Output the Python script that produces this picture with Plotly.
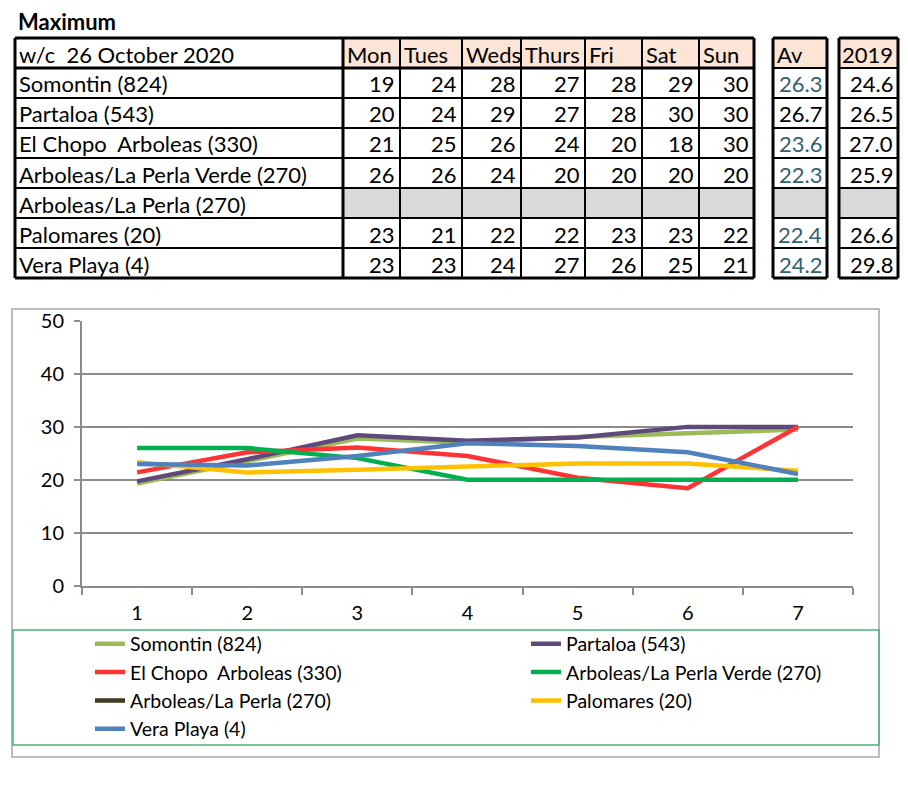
import plotly.graph_objects as go

# ---------------- data ----------------
title_text = "Maximum"
week_label = "w/c&nbsp;&nbsp;26 October 2020"
days = ["Mon", "Tues", "Weds", "Thurs", "Fri", "Sat", "Sun"]
stations = ["Somontin (824)", "Partaloa (543)", "El Chopo  Arboleas (330)",
            "Arboleas/La Perla Verde (270)", "Arboleas/La Perla (270)",
            "Palomares (20)", "Vera Playa (4)"]
table_values = [
    [19, 24, 28, 27, 28, 29, 30],
    [20, 24, 29, 27, 28, 30, 30],
    [21, 25, 26, 24, 20, 18, 30],
    [26, 26, 24, 20, 20, 20, 20],
    None,
    [23, 21, 22, 22, 23, 23, 22],
    [23, 23, 24, 27, 26, 25, 21],
]
averages = ["26.3", "26.7", "23.6", "22.3", None, "22.4", "24.2"]
avg_teal = [True, False, True, True, False, True, True]
year_2019 = ["24.6", "26.5", "27.0", "25.9", None, "26.6", "29.8"]

x_labels = ["1", "2", "3", "4", "5", "6", "7"]
chart_series = [
    [19.3, 23.5, 27.8, 27.0, 28.1, 28.8, 29.5],
    [19.7, 23.9, 28.4, 27.4, 28.0, 30.0, 30.0],
    [21.4, 25.2, 26.1, 24.5, 20.4, 18.4, 30.0],
    [26.0, 26.0, 24.1, 20.0, 20.0, 20.0, 20.0],
    [None] * 7,
    [23.3, 21.4, 21.9, 22.5, 23.1, 23.1, 21.7],
    [23.0, 22.7, 24.5, 26.9, 26.4, 25.2, 21.1],
]
series_colors = ["#9BBB59", "#5F497A", "#FF3333", "#00B050", "#403A20", "#FFC000", "#4F81BD"]
legend_column = ["legend", "legend2", "legend", "legend2", "legend", "legend2", "legend"]

# ---------------- layout helpers ----------------
W, H = 908, 800
FONT = "Lato"
def px(x): return x / W
def py(y): return 1 - y / H

shapes = []
annotations = []

def rect(x0, y0, x1, y1, fill=None, line_w=0, line_c="black"):
    shapes.append(dict(type="rect", xref="paper", yref="paper",
                       x0=px(x0), x1=px(x1), y0=py(y1), y1=py(y0),
                       fillcolor=fill if fill else "rgba(0,0,0,0)",
                       line=dict(width=line_w, color=line_c), layer="below"))

def line(x0, y0, x1, y1, w=2, c="black"):
    shapes.append(dict(type="line", xref="paper", yref="paper",
                       x0=px(x0), x1=px(x1), y0=py(y0), y1=py(y1),
                       line=dict(width=w, color=c)))

def text(x, y, s, anchor="left", color="black", size=22, bold=False):
    if bold:
        s = "<b>" + s + "</b>"
    annotations.append(dict(xref="paper", yref="paper", x=px(x), y=py(y),
                            text=s, showarrow=False, xanchor=anchor, yanchor="middle",
                            font=dict(family=FONT, size=size, color=color)))

HEAD_FILL = "#FCE4D6"
GRAY_FILL = "#D9D9D9"
TEAL = "#31606E"

row_y = [38, 68, 98, 128, 158, 188, 218, 248, 278]
col_x = [15, 343, 400, 462, 521, 585, 642, 699, 754]
av_x = [773, 827]
yr_x = [839, 898]

# title
text(16, 22, title_text, size=22, bold=True)

# fills
for j in range(len(days)):
    rect(col_x[j + 1], row_y[0], col_x[j + 2], row_y[1], fill=HEAD_FILL)
rect(av_x[0], row_y[0], av_x[1], row_y[1], fill=HEAD_FILL)
rect(yr_x[0], row_y[0], yr_x[1], row_y[1], fill=HEAD_FILL)
for i, vals in enumerate(table_values):
    if vals is None:
        rect(col_x[1], row_y[i + 1], col_x[-1], row_y[i + 2], fill=GRAY_FILL)
        rect(av_x[0], row_y[i + 1], av_x[1], row_y[i + 2], fill=GRAY_FILL)
        rect(yr_x[0], row_y[i + 1], yr_x[1], row_y[i + 2], fill=GRAY_FILL)

# grid lines main table
for k, y in enumerate(row_y):
    w = 3 if k in (0, 1, len(row_y) - 1) else 2
    line(col_x[0], y, col_x[-1], y, w=w)
for k, x in enumerate(col_x):
    w = 3 if k in (0, 1, len(col_x) - 1) else 2
    line(x, row_y[0], x, row_y[-1], w=w)
# av / 2019 boxes
for bx in (av_x, yr_x):
    for k, y in enumerate(row_y):
        w = 3 if k in (0, len(row_y) - 1) else 2
        line(bx[0], y, bx[1], y, w=w)
    line(bx[0], row_y[0], bx[0], row_y[-1], w=3)
    line(bx[1], row_y[0], bx[1], row_y[-1], w=3)

# header texts
mid = lambda i: (row_y[i] + row_y[i + 1]) / 2 + 1
text(17, mid(0), week_label)
for j, d in enumerate(days):
    text(col_x[j + 1] + 2, mid(0), d)
text(av_x[0] + 2, mid(0), "Av")
text(yr_x[1] - 3, mid(0), "2019", anchor="right")

for i, st in enumerate(stations):
    text(17, mid(i + 1), st.replace("  ", "&nbsp;&nbsp;"))
    vals = table_values[i]
    if vals is not None:
        for j, v in enumerate(vals):
            text(col_x[j + 2] - 3, mid(i + 1), str(v), anchor="right")
    if averages[i] is not None:
        text(av_x[1] - 3, mid(i + 1), averages[i], anchor="right",
             color=TEAL if avg_teal[i] else "black")
    if year_2019[i] is not None:
        text(yr_x[1] - 3, mid(i + 1), year_2019[i], anchor="right")

# chart frame and legend box
rect(12, 309, 879, 757, line_w=1.5, line_c="#A6A6A6")
rect(13, 630, 879, 745, line_w=1.5, line_c="#4DB37A")

# ---------------- figure ----------------
fig = go.Figure()
for name, vals, col, lg in zip(stations, chart_series, series_colors, legend_column):
    fig.add_trace(go.Scatter(x=x_labels, y=vals, mode="lines", name=name,
                             line=dict(color=col, width=4.5), connectgaps=False,
                             legend=lg))

AX = "#8C8C8C"
leg_common = dict(orientation="v", yanchor="top", xanchor="left",
                  font=dict(family=FONT, size=19.5, color="black"),
                  bgcolor="rgba(0,0,0,0)", borderwidth=0, traceorder="normal")
fig.update_layout(
    width=W, height=H,
    margin=dict(l=0, r=0, t=0, b=0, autoexpand=False),
    paper_bgcolor="white", plot_bgcolor="white",
    shapes=shapes, annotations=annotations,
    showlegend=True,
    legend=dict(x=px(90), y=py(624.5), **leg_common),
    legend2=dict(x=px(526), y=py(624.5), **leg_common),
    xaxis=dict(domain=[px(82), px(853)], type="category", tickson="boundaries",
               range=[-0.5, 6.5], automargin=False,
               ticks="outside", ticklen=7, tickcolor=AX, tickwidth=2,
               showline=True, linecolor=AX, linewidth=2, showgrid=False,
               tickfont=dict(family=FONT, size=20, color="black"),
               ticklabelstandoff=8, fixedrange=True),
    yaxis=dict(domain=[py(585.7), py(321)], range=[0, 50], dtick=10, automargin=False,
               ticks="outside", ticklen=6, tickcolor=AX, tickwidth=2,
               showline=True, linecolor=AX, linewidth=2,
               showgrid=True, gridcolor=AX, gridwidth=1.5, zeroline=False,
               tickfont=dict(family=FONT, size=20, color="black"),
               ticklabelstandoff=6, fixedrange=True),
)

fig.write_html("out.html", config={"displayModeBar": False},
               post_script="document.body.style.margin='0';document.body.style.overflow='hidden';")
